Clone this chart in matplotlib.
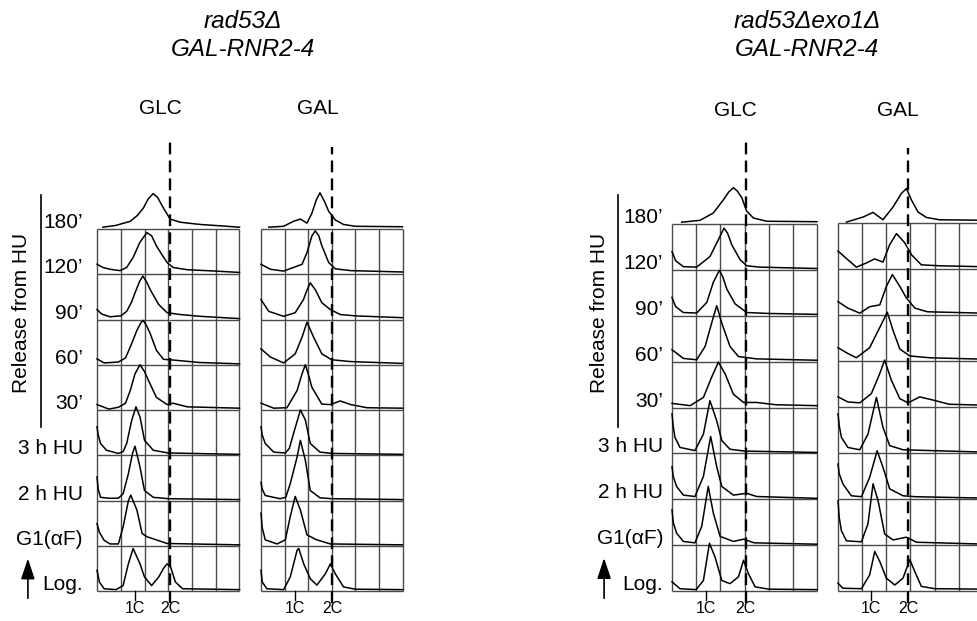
import numpy as np
import matplotlib
matplotlib.use("Agg")
import matplotlib.pyplot as plt

plt.rcParams['font.family'] = ['Liberation Sans', 'DejaVu Sans']

# ---------------- data ----------------
row_labels = ["Log.", "G1(\u03b1F)", "2 h HU", "3 h HU", "30\u2019", "60\u2019", "90\u2019", "120\u2019", "180\u2019"]
strain_titles = [("rad53\u0394", "GAL-RNR2-4"), ("rad53\u0394exo1\u0394", "GAL-RNR2-4")]
media = ["GLC", "GAL", "GLC", "GAL"]
one_c = [1.6, 1.43, 1.41, 1.35]     # 1C position (grid-cell units) per column
two_c = [3.08, 3.02, 3.05, 2.9]     # 2C position per column

# rad53 GLC
lglc_log_x = [0, 0.1, 0.3, 0.8, 1.1, 1.32, 1.52, 1.81, 2.0, 2.3, 2.6, 2.8, 2.95, 3.1, 3.3, 3.6, 6.0]
lglc_log_y = [0.46, 0.2, 0.05, 0.03, 0.12, 0.6, 0.94, 0.6, 0.31, 0.12, 0.31, 0.5, 0.6, 0.53, 0.2, 0.05, 0.03]
lglc_g1_x = [0, 0.1, 0.3, 0.55, 0.9, 1.1, 1.32, 1.42, 1.68, 1.9, 2.1, 2.5, 2.95, 6.0]
lglc_g1_y = [0.49, 0.3, 0.12, 0.04, 0.04, 0.42, 0.99, 1.12, 0.79, 0.27, 0.2, 0.13, 0.05, 0.02]
lglc_2h_x = [0, 0.05, 0.15, 0.5, 0.9, 1.1, 1.32, 1.5, 1.6, 1.81, 2.0, 2.37, 3.0, 6.0]
lglc_2h_y = [0.52, 0.25, 0.07, 0.05, 0.05, 0.15, 0.59, 1.05, 1.2, 0.74, 0.22, 0.07, 0.04, 0.02]
lglc_3h_x = [0, 0.05, 0.15, 0.4, 0.9, 1.1, 1.25, 1.46, 1.64, 1.81, 2.0, 2.37, 3.0, 6.0]
lglc_3h_y = [0.63, 0.45, 0.26, 0.11, 0.04, 0.08, 0.26, 0.77, 1.07, 0.85, 0.33, 0.11, 0.05, 0.02]
lglc_30_x = [0, 0.5, 0.9, 1.2, 1.4, 1.6, 1.81, 2.0, 2.17, 2.5, 2.95, 3.2, 3.8, 6.0]
lglc_30_y = [0.12, 0.02, 0.06, 0.15, 0.43, 0.8, 1.0, 0.85, 0.65, 0.28, 0.12, 0.15, 0.07, 0.04]
lglc_60_x = [0, 0.3, 0.9, 1.2, 1.4, 1.68, 1.85, 1.95, 2.1, 2.24, 2.5, 2.8, 3.3, 4.3, 6.0]
lglc_60_y = [0.13, 0.04, 0.06, 0.15, 0.39, 0.76, 0.93, 0.98, 0.85, 0.69, 0.32, 0.12, 0.1, 0.05, 0.02]
lglc_90_x = [0, 0.2, 0.55, 1.0, 1.25, 1.45, 1.6, 1.8, 1.93, 2.1, 2.24, 2.6, 2.95, 3.5, 4.35, 6.0]
lglc_90_y = [0.22, 0.12, 0.06, 0.08, 0.18, 0.38, 0.59, 0.85, 0.96, 0.82, 0.66, 0.33, 0.15, 0.11, 0.07, 0.02]
lglc_120_x = [0, 0.25, 0.55, 0.97, 1.25, 1.52, 1.8, 2.1, 2.3, 2.5, 2.75, 2.95, 3.2, 3.8, 5.0, 6.0]
lglc_120_y = [0.22, 0.15, 0.11, 0.08, 0.15, 0.37, 0.7, 0.92, 0.85, 0.63, 0.42, 0.26, 0.15, 0.1, 0.07, 0.04]
lglc_180_x = [0.25, 0.8, 1.4, 1.7, 1.95, 2.15, 2.36, 2.55, 2.8, 3.08, 3.5, 4.35, 5.2, 6.0]
lglc_180_y = [0.04, 0.08, 0.17, 0.3, 0.46, 0.66, 0.78, 0.7, 0.46, 0.22, 0.15, 0.1, 0.07, 0.04]

# rad53 GAL
lgal_log_x = [0, 0.05, 0.25, 0.96, 1.24, 1.53, 1.6, 1.81, 2.09, 2.37, 2.73, 2.94, 3.15, 3.5, 4.0, 6.0]
lgal_log_y = [0.46, 0.2, 0.05, 0.03, 0.31, 0.9, 0.94, 0.6, 0.27, 0.13, 0.38, 0.6, 0.38, 0.09, 0.04, 0.03]
lgal_g1_x = [0, 0.05, 0.18, 0.68, 1.03, 1.24, 1.45, 1.67, 1.95, 2.37, 2.94, 6.0]
lgal_g1_y = [0.72, 0.4, 0.13, 0.04, 0.13, 0.64, 1.09, 0.79, 0.24, 0.13, 0.04, 0.02]
lgal_2h_x = [0, 0.05, 0.18, 0.8, 1.05, 1.24, 1.53, 1.67, 1.88, 2.09, 2.5, 3.0, 6.0]
lgal_2h_y = [0.4, 0.25, 0.11, 0.04, 0.07, 0.37, 0.96, 1.33, 0.89, 0.22, 0.06, 0.04, 0.02]
lgal_3h_x = [0, 0.05, 0.18, 0.54, 1.03, 1.2, 1.38, 1.67, 1.88, 2.09, 2.5, 3.0, 6.0]
lgal_3h_y = [0.63, 0.45, 0.26, 0.07, 0.05, 0.15, 0.48, 1.0, 0.78, 0.26, 0.07, 0.04, 0.02]
lgal_30_x = [0, 0.54, 1.1, 1.53, 1.74, 1.88, 2.0, 2.16, 2.58, 2.94, 3.36, 3.8, 4.5, 6.0]
lgal_30_y = [0.15, 0.04, 0.05, 0.43, 0.8, 1.0, 0.8, 0.5, 0.13, 0.12, 0.2, 0.12, 0.05, 0.04]
lgal_60_x = [0, 0.4, 0.96, 1.45, 1.74, 1.95, 2.23, 2.58, 3.0, 3.8, 6.0]
lgal_60_y = [0.35, 0.17, 0.04, 0.24, 0.61, 0.94, 0.61, 0.24, 0.11, 0.07, 0.03]
lgal_90_x = [0, 0.33, 0.96, 1.45, 1.8, 1.95, 2.09, 2.3, 2.58, 2.94, 3.36, 4.0, 6.0]
lgal_90_y = [0.44, 0.18, 0.07, 0.15, 0.44, 0.65, 0.81, 0.66, 0.37, 0.22, 0.11, 0.08, 0.04]
lgal_120_x = [0, 0.4, 0.96, 1.38, 1.74, 1.95, 2.16, 2.3, 2.45, 2.58, 2.87, 3.15, 3.8, 6.0]
lgal_120_y = [0.22, 0.11, 0.07, 0.15, 0.22, 0.48, 0.85, 0.96, 0.85, 0.63, 0.26, 0.12, 0.08, 0.05]
lgal_180_x = [0.33, 0.96, 1.38, 1.67, 1.95, 2.16, 2.35, 2.5, 2.7, 2.87, 3.15, 3.5, 4.0, 6.0]
lgal_180_y = [0.04, 0.06, 0.17, 0.22, 0.13, 0.35, 0.65, 0.8, 0.6, 0.39, 0.2, 0.1, 0.06, 0.05]

# rad53 exo1 GLC
rglc_log_x = [0, 0.33, 1.0, 1.3, 1.55, 1.78, 2.06, 2.4, 2.75, 2.96, 3.16, 3.44, 4.0, 6.0]
rglc_log_y = [0.2, 0.05, 0.03, 0.23, 1.04, 0.74, 0.23, 0.16, 0.31, 0.67, 0.38, 0.09, 0.04, 0.03]
rglc_g1_x = [0, 0.05, 0.19, 0.47, 0.95, 1.23, 1.5, 1.71, 1.99, 2.54, 2.96, 3.4, 6.0]
rglc_g1_y = [0.77, 0.5, 0.26, 0.08, 0.05, 0.41, 1.28, 0.7, 0.19, 0.08, 0.13, 0.05, 0.02]
rglc_2h_x = [0, 0.05, 0.19, 0.47, 0.95, 1.3, 1.6, 1.85, 2.06, 2.54, 3.09, 3.5, 6.0]
rglc_2h_y = [0.71, 0.5, 0.28, 0.09, 0.06, 0.5, 1.37, 0.71, 0.28, 0.09, 0.13, 0.06, 0.02]
rglc_3h_x = [0, 0.05, 0.12, 0.33, 0.95, 1.3, 1.57, 1.85, 2.06, 2.4, 3.0, 6.0]
rglc_3h_y = [0.86, 0.6, 0.35, 0.13, 0.06, 0.42, 1.15, 0.71, 0.28, 0.09, 0.05, 0.02]
rglc_30_x = [0, 0.75, 1.3, 1.64, 1.92, 2.2, 2.54, 2.96, 3.5, 4.3, 6.0]
rglc_30_y = [0.09, 0.04, 0.22, 0.66, 0.99, 0.73, 0.29, 0.11, 0.11, 0.06, 0.04]
rglc_60_x = [0, 0.47, 1.02, 1.37, 1.64, 1.85, 2.06, 2.4, 2.75, 3.5, 6.0]
rglc_60_y = [0.26, 0.07, 0.04, 0.33, 0.84, 1.22, 0.84, 0.33, 0.11, 0.06, 0.03]
rglc_90_x = [0, 0.15, 0.47, 1.02, 1.44, 1.71, 1.96, 2.1, 2.27, 2.61, 3.09, 4.0, 6.0]
rglc_90_y = [0.4, 0.2, 0.07, 0.06, 0.29, 0.73, 0.99, 0.85, 0.58, 0.26, 0.07, 0.05, 0.03]
rglc_120_x = [0, 0.15, 0.47, 1.02, 1.57, 1.92, 2.15, 2.3, 2.47, 2.82, 3.09, 3.6, 6.0]
rglc_120_y = [0.4, 0.2, 0.07, 0.06, 0.29, 0.66, 0.91, 0.8, 0.55, 0.22, 0.09, 0.06, 0.03]
rglc_180_x = [0.4, 1.16, 1.71, 2.13, 2.35, 2.54, 2.7, 2.89, 3.09, 3.37, 3.92, 6.0]
rglc_180_y = [0.04, 0.08, 0.24, 0.53, 0.7, 0.79, 0.72, 0.57, 0.28, 0.13, 0.06, 0.05]

# rad53 exo1 GAL
rgal_log_x = [0, 0.2, 0.97, 1.31, 1.52, 1.73, 2.0, 2.35, 2.69, 2.97, 3.18, 3.45, 4.0, 6.0]
rgal_log_y = [0.17, 0.06, 0.05, 0.35, 0.86, 0.64, 0.28, 0.13, 0.28, 0.68, 0.42, 0.1, 0.05, 0.04]
rgal_g1_x = [0, 0.05, 0.14, 0.35, 0.97, 1.24, 1.45, 1.66, 1.93, 2.28, 2.83, 3.25, 6.0]
rgal_g1_y = [0.96, 0.6, 0.31, 0.09, 0.07, 0.46, 1.33, 0.96, 0.24, 0.11, 0.17, 0.06, 0.02]
rgal_2h_x = [0, 0.05, 0.2, 0.55, 0.97, 1.31, 1.62, 1.86, 2.14, 2.69, 3.2, 6.0]
rgal_2h_y = [0.76, 0.55, 0.33, 0.07, 0.05, 0.47, 1.05, 0.69, 0.22, 0.07, 0.05, 0.02]
rgal_3h_x = [0, 0.05, 0.14, 0.41, 0.9, 1.24, 1.59, 1.86, 2.14, 2.69, 6.0]
rgal_3h_y = [0.85, 0.6, 0.34, 0.12, 0.07, 0.41, 1.21, 0.56, 0.16, 0.07, 0.02]
rgal_30_x = [0, 0.41, 0.9, 1.38, 1.73, 1.93, 2.21, 2.56, 2.9, 3.38, 3.94, 4.6, 6.0]
rgal_30_y = [0.22, 0.11, 0.09, 0.29, 0.73, 1.02, 0.58, 0.18, 0.09, 0.22, 0.15, 0.06, 0.04]
rgal_60_x = [0, 0.35, 0.76, 1.31, 1.73, 2.04, 2.28, 2.56, 2.97, 3.8, 6.0]
rgal_60_y = [0.29, 0.18, 0.07, 0.29, 0.73, 1.06, 0.66, 0.26, 0.11, 0.07, 0.04]
rgal_90_x = [0, 0.41, 0.9, 1.31, 1.73, 2.0, 2.25, 2.56, 2.83, 3.18, 3.7, 6.0]
rgal_90_y = [0.29, 0.15, 0.04, 0.18, 0.22, 0.62, 0.88, 0.62, 0.37, 0.15, 0.07, 0.04]
rgal_120_x = [0, 0.41, 0.76, 1.17, 1.52, 1.86, 2.14, 2.42, 2.76, 3.04, 3.45, 4.2, 6.0]
rgal_120_y = [0.39, 0.2, 0.04, 0.13, 0.22, 0.15, 0.53, 0.77, 0.57, 0.31, 0.09, 0.07, 0.05]
rgal_180_x = [0.35, 1.04, 1.45, 1.86, 2.28, 2.62, 2.83, 3.04, 3.31, 3.66, 4.2, 6.0]
rgal_180_y = [0.02, 0.13, 0.23, 0.07, 0.35, 0.64, 0.75, 0.5, 0.24, 0.12, 0.07, 0.06]

row_keys = ["log", "g1", "2h", "3h", "30", "60", "90", "120", "180"]
col_keys = ["lglc", "lgal", "rglc", "rgal"]
g = globals()

# ---------------- layout ----------------
W, H = 978, 621
fig = plt.figure(figsize=(W / 100, H / 100), dpi=100)

# (left px, right px, top px, bottom px)
col_box = [(97, 239.5, 229, 591), (261, 402.5, 229, 591),
           (672, 817, 224, 591), (838, 983, 223, 591)]
dash_top = [9.97, 9.81, 9.79, 9.63]

GRID = '#4a4a4a'
axes = []
for ci, (x0, x1, yt, yb) in enumerate(col_box):
    ax = fig.add_axes([x0 / W, (H - yb) / H, (x1 - x0) / W, (yb - yt) / H])
    ax.set_xlim(0, 6)
    ax.set_ylim(0, 8)
    ax.axis('off')
    ax.vlines(np.arange(7), 0, 8, color=GRID, lw=1.0, clip_on=False, zorder=1)
    ax.hlines(np.arange(9), 0, 6, color=GRID, lw=1.0, clip_on=False, zorder=1)
    ck = col_keys[ci]
    for ri, rk in enumerate(row_keys):
        xs = np.array(g[f"{ck}_{rk}_x"])
        ys = np.array(g[f"{ck}_{rk}_y"]) + ri
        ax.plot(xs, ys, color='black', lw=1.1, clip_on=False, zorder=3)
    # 2C dashed line
    ax.plot([two_c[ci], two_c[ci]], [-0.27, dash_top[ci]], color='black', lw=1.7,
            ls=(0, (5, 2.6)), clip_on=False, zorder=4)
    # 1C tick
    ax.plot([one_c[ci], one_c[ci]], [-0.2, 0], color='black', lw=1.0, clip_on=False)
    ax.text(one_c[ci], -0.39, "1C", ha='center', va='center', fontsize=11.5)
    ax.text(two_c[ci], -0.39, "2C", ha='center', va='center', fontsize=11.5)
    axes.append(ax)

# column headers
for (xc, yc), lab in zip([(160, 108), (318, 108), (735, 110), (898, 110)], media):
    fig.text(xc / W, 1 - yc / H, lab, ha='center', va='center', fontsize=15)

# strain titles
for xc, (t1, t2) in zip([243, 807], strain_titles):
    fig.text(xc / W, 1 - 21 / H, t1, ha='center', va='center', fontsize=17.5, style='italic')
    fig.text(xc / W, 1 - 49 / H, t2, ha='center', va='center', fontsize=17.5, style='italic')

# row labels and side annotations
side = [
    # ax, label x, release x, bracket x, arrow x, bracket y range
    (axes[0], -0.59, -3.16, -2.36, -2.91, (3.62, 8.75), 6.14),
    (axes[2], -0.37, -2.98, -2.23, -2.81, (3.57, 8.63), 6.06),
]
for ax, lx, rx, bx, axx, (by0, by1), ry in side:
    for ri, lab in enumerate(row_labels):
        ax.text(lx, ri + 0.14, lab, ha='right', va='center', fontsize=15, clip_on=False)
    ax.text(rx, ry, "Release from HU", rotation=90, ha='center', va='center', fontsize=15)
    ax.plot([bx, bx], [by0, by1], color='black', lw=1.2, clip_on=False)
    ax.annotate('', xy=(axx, 0.78), xytext=(axx, -0.22),
                arrowprops=dict(arrowstyle='-|>,head_length=0.9,head_width=0.3',
                                color='black', lw=1.2, mutation_scale=14),
                annotation_clip=False)

fig.savefig("out.png", dpi=100)
